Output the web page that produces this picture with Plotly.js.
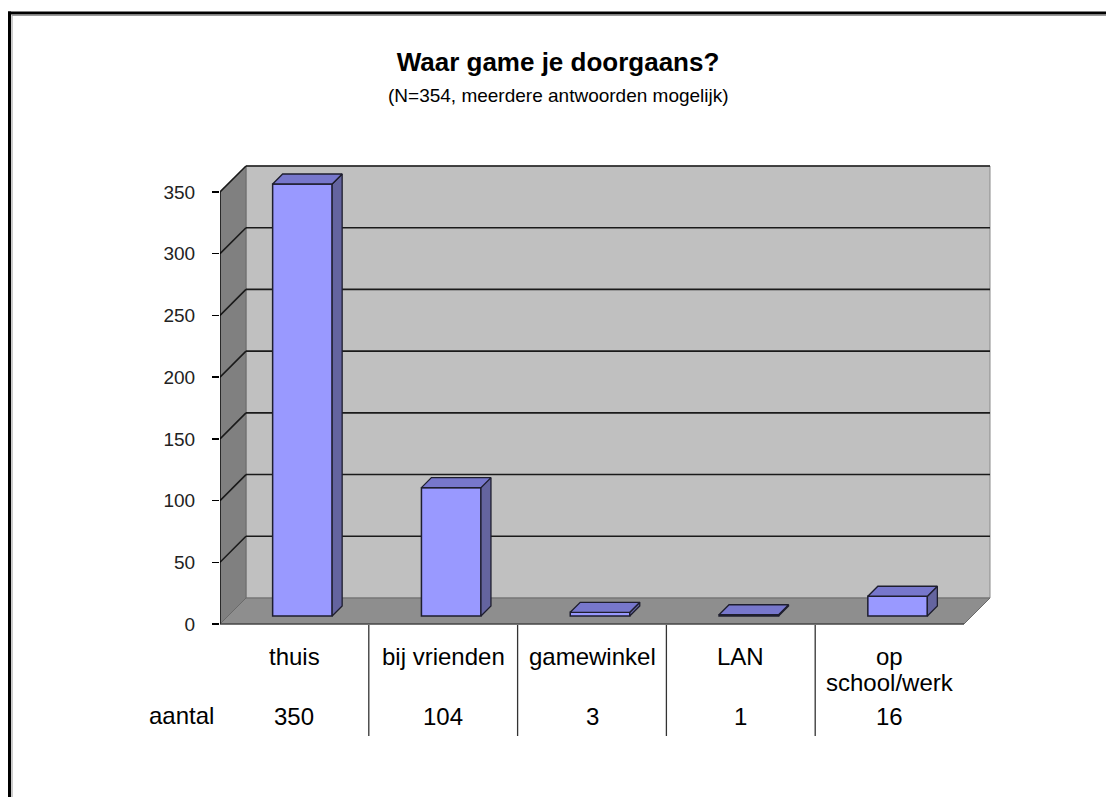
<!DOCTYPE html>
<html>
<head>
<meta charset="utf-8">
<script src="https://cdn.plot.ly/plotly-3.0.1.min.js"></script>
<style>html,body{margin:0;padding:0;background:#fff;}#chart{width:1106px;height:797px;}</style>
</head>
<body>
<div id="chart"></div>
<script>
// ---- data ----
const categories = ['thuis', 'bij vrienden', 'gamewinkel', 'LAN', 'op school/werk'];
const tableLabelLines = [['thuis'], ['bij vrienden'], ['gamewinkel'], ['LAN'], ['op', 'school/werk']];
const values = [350, 104, 3, 1, 16];
const yTicks = [0, 50, 100, 150, 200, 250, 300, 350];
const rowLabel = 'aantal';
const titleText = 'Waar game je doorgaans?';
const subtitleText = '(N=354, meerdere antwoorden mogelijk)';

// ---- geometry (pixels -> data units) ----
const W = 1106, H = 797;
const M = {l: 220, r: 106, t: 150, b: 37};
const plotW = W - M.l - M.r, plotH = H - M.t - M.b;
const PXX = 148.8;            // px per category
const PXY = 1.2343;           // px per value unit
const Y0PX = 624;             // pixel row of value 0 (front plane)
const dx = p => p / PXX;
const dy = p => p / PXY;
const yFromPx = py => (Y0PX - py) / PXY;
const paperX = px => (px - M.l) / plotW;
const paperY = py => (H - M.b - py) / plotH;

const n = categories.length;
const xL = -0.5, xR = n - 0.5;
const yTop = yTicks[yTicks.length - 1];
const wallDX = dx(26), wallDY = dy(26);
const barOff = 8, barDepth = 10, barW = 0.4;
const font = '"Liberation Sans", Arial, sans-serif';

const shapes = [];
const poly = (pts, fill, line, lw, layer) => shapes.push({
  type: 'path', xref: 'x', yref: 'y', layer: layer || 'below',
  path: 'M' + pts.map(p => p[0] + ',' + p[1]).join('L') + 'Z',
  fillcolor: fill, line: {color: line, width: lw}
});
const seg = (x0, y0, x1, y1, color, w, xref, yref) => shapes.push({
  type: 'line', xref: xref || 'x', yref: yref || 'y', layer: 'below',
  x0, y0, x1, y1, line: {color, width: w}
});

// back wall
poly([[xL + wallDX, wallDY], [xR + wallDX, wallDY], [xR + wallDX, yTop + wallDY], [xL + wallDX, yTop + wallDY]], '#c0c0c0', '#8a8a8a', 1);
// left wall
poly([[xL, 0], [xL + wallDX, wallDY], [xL + wallDX, yTop + wallDY], [xL, yTop]], '#808080', '#6a6a6a', 1);
// floor
poly([[xL, 0], [xR, 0], [xR + wallDX, wallDY], [xL + wallDX, wallDY]], '#8e8e8e', '#6a6a6a', 1);

// gridlines
yTicks.forEach(v => {
  if (v === 0) return;
  seg(xL + wallDX, v + wallDY, xR + wallDX, v + wallDY, '#1a1a1a', 1.6);
  seg(xL, v, xL + wallDX, v + wallDY, '#1a1a1a', 1.6);
});
// y axis line
seg(xL, 0, xL, yTop, '#000', 1.3);
seg(xL, 0, xR, 0, '#333', 1);

// table separators
for (let i = 0; i < n - 1; i++) {
  seg(i + 0.5, yFromPx(625), i + 0.5, yFromPx(736), '#333', 1.3);
}

// bars
const traces = [];
const bx = values.map((v, i) => i + dx(barOff));
const bBase = dy(barOff);
traces.push({
  type: 'bar', x: bx, y: values, base: values.map(() => bBase), width: barW,
  marker: {color: '#9999ff', line: {color: '#1e1e2e', width: 1.5}},
  hoverinfo: 'skip', showlegend: false
});
const bdx = dx(barDepth), bdy = dy(barDepth);
values.forEach((v, i) => {
  const l = bx[i] - barW / 2, r = bx[i] + barW / 2;
  const b = bBase, t = bBase + v;
  // side
  traces.push({type: 'scatter', mode: 'lines', fill: 'toself', fillcolor: '#64649f',
    x: [r, r + bdx, r + bdx, r, r], y: [b, b + bdy, t + bdy, t, b],
    line: {color: '#1e1e2e', width: 1.3}, hoverinfo: 'skip', showlegend: false});
  // top
  traces.push({type: 'scatter', mode: 'lines', fill: 'toself', fillcolor: '#7777cc',
    x: [l, r, r + bdx, l + bdx, l], y: [t, t, t + bdy, t + bdy, t],
    line: {color: '#1e1e2e', width: 1.3}, hoverinfo: 'skip', showlegend: false});
});

// annotations
const ann = [];
const tfont = {family: font, size: 24, color: '#000'};
tableLabelLines.forEach((lines, i) => {
  lines.forEach((txt, k) => {
    ann.push({xref: 'x', yref: 'y', x: i, y: yFromPx(656 + 26 * k), text: txt, showarrow: false,
      xanchor: 'center', yanchor: 'middle', font: tfont});
  });
  ann.push({xref: 'x', yref: 'y', x: i, y: yFromPx(716), text: String(values[i]), showarrow: false,
    xanchor: 'center', yanchor: 'middle', font: tfont});
});
ann.push({xref: 'paper', yref: 'paper', x: paperX(181), y: paperY(715), text: rowLabel, showarrow: false,
  xanchor: 'center', yanchor: 'middle', font: tfont});
ann.push({xref: 'paper', yref: 'paper', x: paperX(558), y: paperY(95), text: subtitleText, showarrow: false,
  xanchor: 'center', yanchor: 'middle', font: {family: font, size: 19, color: '#000'}});

// outer frame
seg(paperX(9.5), paperY(11.5), paperX(9.5), paperY(800), '#000', 3, 'paper', 'paper');
seg(paperX(8), paperY(13), paperX(1110), paperY(13), '#000', 3, 'paper', 'paper');
seg(paperX(12), paperY(15), paperX(12), paperY(800), '#9a9a9a', 1, 'paper', 'paper');
seg(paperX(12), paperY(15.5), paperX(1110), paperY(15.5), '#9a9a9a', 1, 'paper', 'paper');

const layout = {
  width: W, height: H, margin: M,
  paper_bgcolor: '#fff', plot_bgcolor: 'rgba(0,0,0,0)',
  title: {text: '<b>' + titleText + '</b>', x: 558 / W, xanchor: 'center', xref: 'container',
    y: 1 - 62 / H, yanchor: 'middle', yref: 'container', font: {family: font, size: 26, color: '#000'}},
  xaxis: {range: [xL, xL + plotW / PXX], visible: false, fixedrange: true},
  yaxis: {range: [yFromPx(H - M.b), yFromPx(M.t)], tickvals: yTicks, ticktext: yTicks.map(String),
    ticks: 'outside', ticklen: 7, tickcolor: '#000', tickwidth: 1.3, showgrid: false, zeroline: false,
    showline: false, ticklabelstandoff: 13, tickfont: {family: font, size: 19, color: '#222'}, fixedrange: true},
  shapes, annotations: ann, showlegend: false, bargap: 0
};
Plotly.newPlot('chart', traces, layout, {displayModeBar: false, staticPlot: true});
</script>
</body>
</html>
